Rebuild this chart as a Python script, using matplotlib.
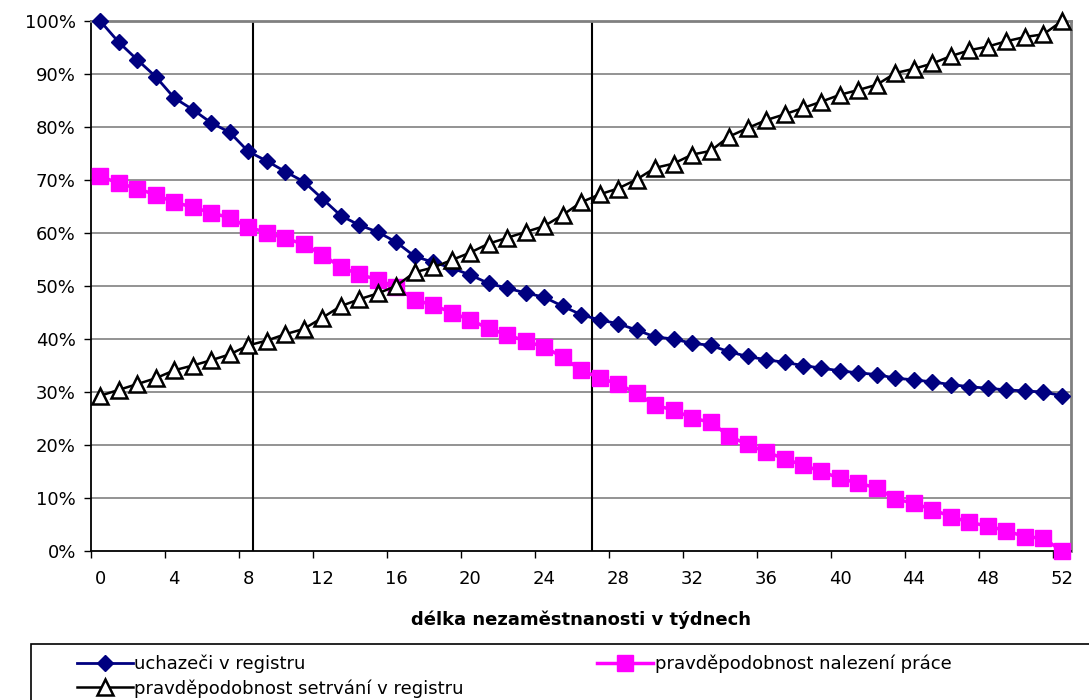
import matplotlib
matplotlib.use("Agg")
import matplotlib.pyplot as plt
from matplotlib.patches import Rectangle
from matplotlib.ticker import FixedLocator, PercentFormatter

# ==========================================
# DATA
# ==========================================

weeks = list(range(53))

uchazeci = [100, 96, 92.7, 89.5, 85.5, 83.3, 80.8, 79, 75.4, 73.6,
            71.6, 69.7, 66.5, 63.3, 61.5, 60.2, 58.3, 55.6, 54.5, 53.4,
            52.1, 50.5, 49.6, 48.7, 47.9, 46.2, 44.6, 43.6, 42.9, 41.7,
            40.4, 40, 39.2, 38.8, 37.6, 36.7, 36.1, 35.6, 35, 34.5,
            34, 33.6, 33.3, 32.6, 32.3, 31.9, 31.4, 31, 30.7, 30.4,
            30.2, 30, 29.3]

nalezeni = [70.7, 69.4, 68.4, 67.2, 65.8, 64.9, 63.8, 62.9, 61.1, 60.1,
            59, 57.9, 55.9, 53.6, 52.2, 51.2, 49.8, 47.4, 46.4, 45,
            43.6, 42, 40.8, 39.6, 38.5, 36.6, 34.1, 32.7, 31.5, 29.8,
            27.5, 26.6, 25.1, 24.3, 21.7, 20.1, 18.7, 17.4, 16.2, 15,
            13.7, 12.8, 11.9, 9.8, 9, 7.8, 6.5, 5.4, 4.7, 3.8,
            2.7, 2.4, 0]

setrvani = [29.3, 30.4, 31.5, 32.6, 34.1, 35, 36, 37.1, 38.8, 39.7,
            40.9, 41.9, 44, 46.2, 47.5, 48.6, 50, 52.6, 53.5, 54.9,
            56.3, 58, 59.1, 60.2, 61.3, 63.4, 65.8, 67.3, 68.4, 70.1,
            72.3, 73.1, 74.8, 75.5, 78.2, 79.8, 81.3, 82.4, 83.6, 84.8,
            86.1, 87, 88, 90.2, 91, 92, 93.4, 94.5, 95.2, 96.2,
            97, 97.5, 100]

labels = ["uchazeči v registru",
          "pravděpodobnost nalezení práce",
          "pravděpodobnost setrvání v registru"]

x_label_ticks = list(range(0, 53, 4))
marker_lines = [8.25, 26.6]

# ==========================================
# PLOT
# ==========================================

plt.rcParams["font.family"] = ["DejaVu Sans"]
plt.rcParams["font.size"] = 13

fig = plt.figure(figsize=(10.89, 7.0), dpi=100)
ax = fig.add_axes([0.0836, 0.2129, 0.9, 0.757])

for y in range(10, 101, 10):
    ax.axhline(y, color="#808080", lw=1.2, zorder=0)

for v in marker_lines:
    ax.axvline(v, color="black", lw=1.5, zorder=1)

h1, = ax.plot(weeks, uchazeci, color="#000080", lw=2, marker="D", ms=8,
              mfc="#000080", mec="#000080", zorder=3, clip_on=False)
h2, = ax.plot(weeks, nalezeni, color="#FF00FF", lw=2.5, marker="s", ms=12,
              mfc="#FF00FF", mec="#FF00FF", zorder=3, clip_on=False)
h3, = ax.plot(weeks, setrvani, color="black", lw=1.8, marker="^", ms=11,
              mfc="white", mec="black", mew=1.8, zorder=4, clip_on=False)

ax.set_xlim(-0.5, 52.5)
ax.set_ylim(0, 100)

ax.set_xticks(x_label_ticks)
ax.xaxis.set_minor_locator(FixedLocator([t - 0.5 for t in x_label_ticks]))
ax.tick_params(axis="x", which="major", length=0, pad=14)
ax.tick_params(axis="x", which="minor", length=5, width=1, direction="out")

ax.set_yticks(range(0, 101, 10))
ax.yaxis.set_major_formatter(PercentFormatter(decimals=0))
ax.tick_params(axis="y", length=5, width=1, direction="out", pad=6)

ax.spines["left"].set_color("black")
ax.spines["bottom"].set_color("black")
ax.spines["left"].set_linewidth(1.3)
ax.spines["bottom"].set_linewidth(1.3)
ax.spines["top"].set_color("#808080")
ax.spines["right"].set_color("#808080")
ax.spines["top"].set_linewidth(2)
ax.spines["right"].set_linewidth(2)

ax.set_xlabel("délka nezaměstnanosti v týdnech", fontweight="bold", labelpad=16)

# legend box runs past the figure edge
fig.patches.append(Rectangle((31 / 1089, -0.1), 1.2, 0.1 + 56 / 700,
                             transform=fig.transFigure, fill=False,
                             edgecolor="black", lw=1.2))

# column-major fill: first column holds entries 1 and 3
fig.legend([h1, h3, h2], [labels[0], labels[2], labels[1]],
           loc="upper left", bbox_to_anchor=(0.062, 0.078), ncol=2,
           frameon=False, borderpad=0, handlelength=3.1,
           handletextpad=0.1, columnspacing=7.4, labelspacing=0.35)

fig.savefig("out.png", dpi=100)
